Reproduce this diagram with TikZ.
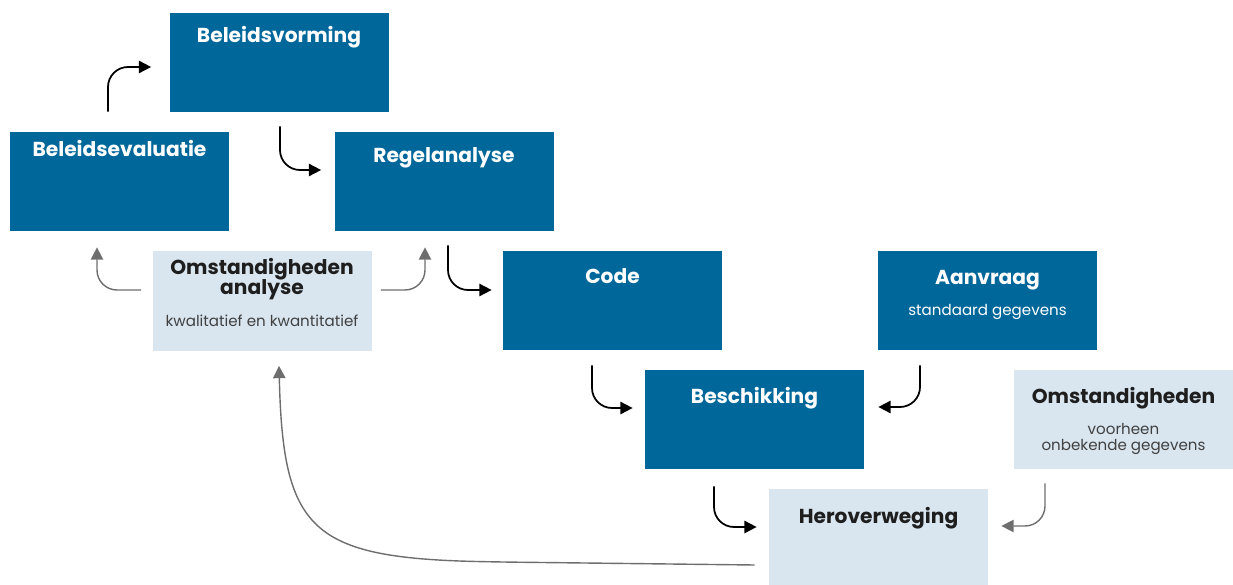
\documentclass[tikz,border=0pt]{standalone}
\usepackage{fontspec}
\setmainfont{Poppins}
\usetikzlibrary{arrows.meta}
\definecolor{dblue}{RGB}{0,103,155}
\definecolor{lblue}{RGB}{217,230,240}
\definecolor{agray}{RGB}{110,110,110}
\definecolor{ink}{RGB}{30,30,30}
\tikzset{
  dbox/.style={rectangle, fill=dblue, minimum width=4.38cm, minimum height=1.98cm, inner sep=0pt},
  lbox/.style={dbox, fill=lblue},
  ttl/.style={anchor=base, inner sep=0pt, font=\fontsize{11.5}{13}\selectfont\bfseries},
  sub/.style={anchor=base, inner sep=0pt, font=\fontsize{8.6}{10}\selectfont},
  flow/.style={-{Triangle[length=7pt,width=7pt]}, line width=1pt, rounded corners=0.4cm},
  back/.style={flow, draw=agray, line width=0.8pt},
}
\begin{document}
\begin{tikzpicture}
\useasboundingbox (0,0) rectangle (24.66,-11.7);
% vakken
\node[dbox] (bv) at (5.58,-1.25) {};
\node[dbox] (be) at (2.39,-3.63) {};
\node[dbox] (ra) at (8.88,-3.63) {};
\node[lbox] (oa) at (5.24,-6.02) {};
\node[dbox] (code) at (12.25,-6.01) {};
\node[dbox] (aan) at (19.75,-6.01) {};
\node[dbox] (bes) at (15.09,-8.39) {};
\node[lbox] (om) at (22.47,-8.39) {};
\node[lbox] (her) at (17.57,-10.77) {};

% teksten
\node[ttl, white] (bv-t) at ([yshift=-0.6cm]bv.north) {Beleidsvorming};
\node[ttl, white] (be-t) at ([yshift=-0.5cm]be.north) {Beleidsevaluatie};
\node[ttl, white] (ra-t) at ([yshift=-0.62cm]ra.north) {Regelanalyse};
\node[ttl, ink] (oa-t1) at ([yshift=-0.46cm]oa.north) {Omstandigheden};
\node[ttl, ink] (oa-t2) at ([yshift=-0.86cm]oa.north) {analyse};
\node[sub, ink!85] (oa-s) at ([yshift=-1.5cm]oa.north) {kwalitatief en kwantitatief};
\node[ttl, white] (code-t) at ([yshift=-0.66cm]code.north) {Code};
\node[ttl, white] (aan-t) at ([yshift=-0.68cm]aan.north) {Aanvraag};
\node[sub, white] (aan-s) at ([yshift=-1.3cm]aan.north) {standaard gegevens};
\node[ttl, white] (bes-t) at ([yshift=-0.68cm]bes.north) {Beschikking};
\node[ttl, ink] (om-t) at ([yshift=-0.68cm]om.north) {Omstandigheden};
\node[sub, ink!85] (om-s1) at ([yshift=-1.3cm]om.north) {voorheen};
\node[sub, ink!85] (om-s2) at ([yshift=-1.62cm]om.north) {onbekende gegevens};
\node[ttl, ink] (her-t) at ([yshift=-0.7cm]her.north) {Heroverweging};

% pijlen
\draw[flow] ([xshift=-0.23cm,yshift=0.4cm]be.north) |- ([xshift=-0.36cm,yshift=-0.09cm]bv.west);
\draw[flow] ([xshift=0.02cm,yshift=-0.28cm]bv.south) |- ([xshift=-0.26cm,yshift=0.23cm]ra.west);
\draw[back] ([xshift=-0.22cm,yshift=0.22cm]oa.west) -| ([xshift=-0.45cm,yshift=-0.32cm]be.south);
\draw[back] ([xshift=0.18cm,yshift=0.22cm]oa.east) -| ([xshift=-0.38cm,yshift=-0.32cm]ra.south);
\draw[flow] ([xshift=0.08cm,yshift=-0.28cm]ra.south) |- ([xshift=-0.22cm,yshift=0.21cm]code.west);
\draw[flow] ([xshift=-0.41cm,yshift=-0.3cm]code.south) |- ([xshift=-0.24cm,yshift=0.23cm]bes.west);
\draw[flow] ([xshift=-1.35cm,yshift=-0.3cm]aan.south) |- ([xshift=0.28cm,yshift=0.25cm]bes.east);
\draw[flow] ([xshift=-0.81cm,yshift=-0.34cm]bes.south) |- ([xshift=-0.24cm,yshift=0.23cm]her.west);
\draw[back] ([xshift=-1.57cm,yshift=-0.28cm]om.south) |- ([xshift=0.26cm,yshift=0.25cm]her.east);
\draw[back] ([xshift=-0.28cm,yshift=-0.53cm]her.west) -- (10,-11.24)
  .. controls (6.2,-11.16) and (5.66,-10.6) .. ([xshift=0.34cm,yshift=-0.3cm]oa.south);
\end{tikzpicture}
\end{document}
